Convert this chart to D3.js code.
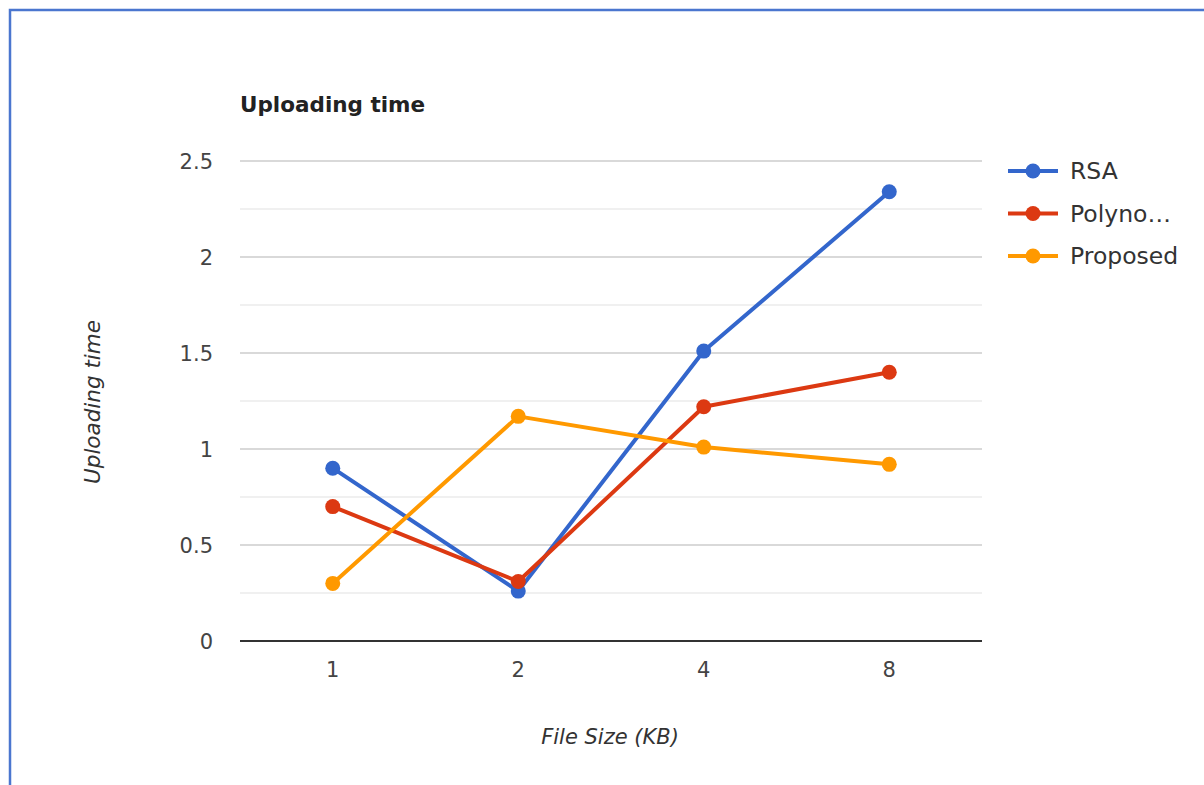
<!DOCTYPE html>
<html><head><meta charset="utf-8">
<script src="https://cdn.jsdelivr.net/npm/d3@7"></script>
<style>body{margin:0;background:#fff;}svg{display:block;font-family:"DejaVu Sans",Arial,sans-serif;}</style>
</head><body>
<svg id="c" width="1204" height="785"></svg>
<script>
const categories = ["1","2","4","8"];
const rsa = [0.90, 0.26, 1.51, 2.34];
const polynomial = [0.70, 0.31, 1.22, 1.40];
const proposed = [0.30, 1.17, 1.01, 0.92];
const seriesNames = ["RSA","Polyno…","Proposed"];
const yTicks = [0, 0.5, 1, 1.5, 2, 2.5];
const yMinor = [0.25, 0.75, 1.25, 1.75, 2.25];

const series = [
  {name: seriesNames[0], values: rsa, color: "#3366cc"},
  {name: seriesNames[1], values: polynomial, color: "#dc3912"},
  {name: seriesNames[2], values: proposed, color: "#ff9900"}
];
const svg = d3.select("#c");
svg.append("rect").attr("x",10).attr("y",10).attr("width",1210).attr("height",800)
  .attr("fill","none").attr("stroke","#4a76cf").attr("stroke-width",2.5);

const L=240,R=982,T=161,B=641;
const x = d3.scaleBand().domain(categories).range([L,R]);
const y = d3.scaleLinear().domain([0,2.5]).range([B,T]);

svg.append("g").selectAll("line").data(yMinor).join("line")
  .attr("x1",L).attr("x2",R).attr("y1",d=>y(d)).attr("y2",d=>y(d))
  .attr("stroke","#ebebeb").attr("stroke-width",1.5);
svg.append("g").selectAll("line").data(yTicks.filter(d=>d>0)).join("line")
  .attr("x1",L).attr("x2",R).attr("y1",d=>y(d)).attr("y2",d=>y(d))
  .attr("stroke","#cccccc").attr("stroke-width",1.5);
svg.append("line").attr("x1",L).attr("x2",R).attr("y1",y(0)).attr("y2",y(0))
  .attr("stroke","#333").attr("stroke-width",2);

svg.append("g").selectAll("text").data(yTicks).join("text")
  .attr("x",213).attr("y",d=>y(d)).attr("dy","0.36em").attr("text-anchor","end")
  .attr("font-size",21).attr("fill","#444").text(d=>d);
svg.append("g").selectAll("text").data(categories).join("text")
  .attr("x",d=>x(d)+x.bandwidth()/2).attr("y",677).attr("text-anchor","middle")
  .attr("font-size",21).attr("fill","#444").text(d=>d);

svg.append("text").attr("x",240).attr("y",112).attr("font-size",21.5).attr("font-weight","bold")
  .attr("fill","#222").text("Uploading time");
svg.append("text").attr("transform",`translate(100,402) rotate(-90)`)
  .attr("text-anchor","middle").attr("font-size",21.5).attr("font-style","italic")
  .attr("fill","#333").text("Uploading time");
svg.append("text").attr("x",610).attr("y",744).attr("text-anchor","middle")
  .attr("font-size",21).attr("font-style","italic").attr("fill","#333").text("File Size (KB)");

const line = d3.line().x((d,i)=>x(categories[i])+x.bandwidth()/2).y(d=>y(d));
series.forEach(s=>{
  svg.append("path").attr("d",line(s.values)).attr("fill","none")
    .attr("stroke",s.color).attr("stroke-width",4).attr("stroke-linejoin","round");
  svg.append("g").selectAll("circle").data(s.values).join("circle")
    .attr("cx",(d,i)=>x(categories[i])+x.bandwidth()/2).attr("cy",d=>y(d)).attr("r",7.5)
    .attr("fill",s.color);
});

const lg = svg.append("g");
series.forEach((s,i)=>{
  const yy = 171 + i*42.5;
  lg.append("line").attr("x1",1008).attr("x2",1058).attr("y1",yy).attr("y2",yy)
    .attr("stroke",s.color).attr("stroke-width",4);
  lg.append("circle").attr("cx",1033).attr("cy",yy).attr("r",7.5).attr("fill",s.color);
  lg.append("text").attr("x",1070).attr("y",yy).attr("dy","0.36em").attr("font-size",23.5)
    .attr("fill","#333").text(s.name);
});
</script>
</body></html>
